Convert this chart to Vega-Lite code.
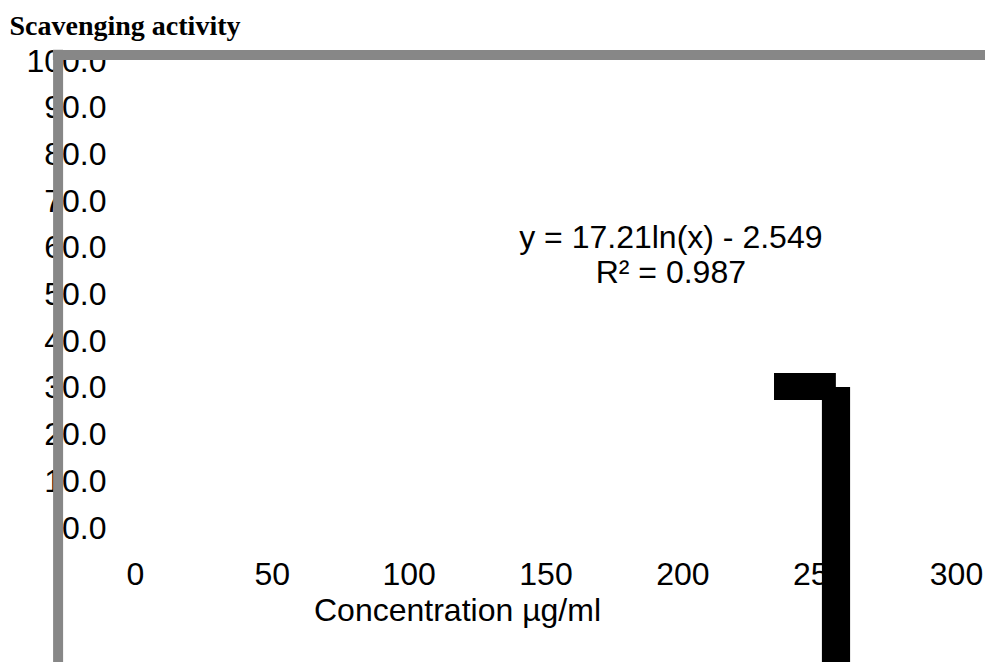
{
  "$schema": "https://vega.github.io/schema/vega-lite/v6.json",
  "autosize": {"type": "none"},
  "width": 821,
  "height": 467,
  "padding": {"left": 135, "top": 61, "right": 29, "bottom": 134},
  "background": "white",
  "config": {"view": {"stroke": null}},
  "datasets": {
    "frame": [
      {"part": "left", "x": -28.1, "x2": -28.1, "y": 102.4, "y2": -40},
      {"part": "top", "x": -30, "x2": 330, "y": 101.3, "y2": 101.3}
    ],
    "blocks": [
      {"part": "bar", "x": 233.5, "x2": 256.1, "y": 33.2, "y2": 27.4},
      {"part": "stem", "x": 251.0, "x2": 261.3, "y": 30.2, "y2": -40}
    ],
    "equation": [
      {"x": 195.8, "y": 59.96, "label": "y = 17.21ln(x) - 2.549"},
      {"x": 195.8, "y": 52.46, "label": "R² = 0.987"}
    ]
  },
  "encoding": {
    "x": {
      "type": "quantitative",
      "scale": {"domain": [0, 300], "nice": false, "zero": false},
      "axis": {
        "title": "Concentration µg/ml",
        "values": [0, 50, 100, 150, 200, 250, 300],
        "format": "d",
        "ticks": false, "domain": false, "grid": false,
        "labelFlush": false, "labelOverlap": false,
        "labelFont": "Liberation Sans", "labelFontSize": 32, "labelColor": "black",
        "labelBaseline": "alphabetic", "labelPadding": 56,
        "titleFont": "Liberation Sans", "titleFontSize": 32, "titleFontWeight": "normal", "titleColor": "black",
        "titleX": 322, "titleY": 92, "titleAlign": "center", "titleBaseline": "alphabetic",
        "zindex": 0
      }
    },
    "y": {
      "type": "quantitative",
      "scale": {"domain": [0, 100], "nice": false, "zero": false},
      "axis": {
        "title": "Scavenging activity",
        "values": [0, 10, 20, 30, 40, 50, 60, 70, 80, 90, 100],
        "format": ".1f",
        "ticks": false, "domain": false, "grid": false,
        "labelFlush": false, "labelOverlap": false,
        "labelFont": "Liberation Sans", "labelFontSize": 32, "labelColor": "black",
        "labelAlign": "right", "labelBaseline": "middle", "labelPadding": 29,
        "titleFont": "Liberation Serif", "titleFontSize": 28, "titleFontWeight": "bold", "titleColor": "black",
        "titleAngle": 0, "titleX": -126, "titleY": -27, "titleAlign": "left", "titleBaseline": "alphabetic",
        "zindex": 0
      }
    }
  },
  "layer": [
    {
      "data": {"name": "equation"},
      "mark": {"type": "text", "font": "Liberation Sans", "fontSize": 32, "color": "black", "align": "center", "baseline": "alphabetic"},
      "encoding": {
        "x": {"field": "x"},
        "y": {"field": "y"},
        "text": {"field": "label", "type": "nominal"}
      }
    },
    {
      "data": {"name": "frame"},
      "mark": {"type": "rule", "color": "#878787", "strokeWidth": 10, "strokeCap": "butt"},
      "encoding": {
        "x": {"field": "x"},
        "x2": {"field": "x2"},
        "y": {"field": "y"},
        "y2": {"field": "y2"}
      }
    },
    {
      "data": {"name": "blocks"},
      "mark": {"type": "rect", "color": "black"},
      "encoding": {
        "x": {"field": "x"},
        "x2": {"field": "x2"},
        "y": {"field": "y"},
        "y2": {"field": "y2"}
      }
    }
  ]
}
